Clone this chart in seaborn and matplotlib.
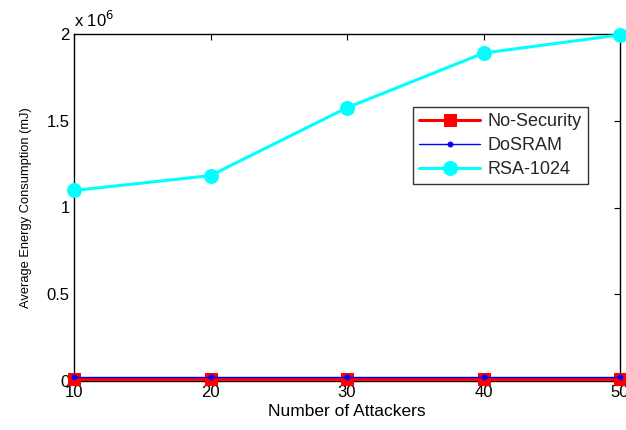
import matplotlib
matplotlib.use("Agg")
import matplotlib.pyplot as plt
import seaborn as sns
import pandas as pd
from matplotlib.ticker import FuncFormatter

attackers = [10, 20, 30, 40, 50]
no_security = [10000, 10000, 10000, 10000, 10000]
dosram = [25000, 25000, 25000, 25000, 25000]
rsa_1024 = [1.098e6, 1.184e6, 1.575e6, 1.89e6, 1.995e6]
series_names = ["No-Security", "DoSRAM", "RSA-1024"]

sns.set_theme(style="white")
plt.rcParams['font.family'] = ['Liberation Sans', 'DejaVu Sans']

rows = []
for name, vals in zip(series_names, [no_security, dosram, rsa_1024]):
    for a, v in zip(attackers, vals):
        rows.append({"Attackers": a, "Energy": v, "Series": name})
df = pd.DataFrame(rows)

fig = plt.figure(figsize=(6.26, 4.30), dpi=100)
ax = fig.add_axes([74/626, 1-381/430, (620-74)/626, (381-34)/430])

styles = {
    "No-Security": dict(color="#ff0000", marker="s", ms=9, lw=2.2),
    "DoSRAM": dict(color="#0000ff", marker="o", ms=3.5, lw=1.0),
    "RSA-1024": dict(color="#00ffff", marker="o", ms=10, lw=2.2),
}
for name in series_names:
    st = styles[name]
    sub = df[df["Series"] == name]
    sns.lineplot(data=sub, x="Attackers", y="Energy", ax=ax, color=st["color"],
                 marker=st["marker"], markersize=st["ms"], linewidth=st["lw"],
                 markeredgecolor=st["color"], label=name, clip_on=False, zorder=3)

ax.set_xlim(10, 50)
ax.set_ylim(0, 2e6)
ax.set_xticks(attackers)
ax.set_yticks([0, 0.5e6, 1e6, 1.5e6, 2e6])
ax.yaxis.set_major_formatter(FuncFormatter(lambda v, p: f"{v/1e6:g}"))
ax.tick_params(direction="in", length=4, width=0.8, top=True, right=True,
               labelsize=12, colors="black", pad=3)
for s in ax.spines.values():
    s.set_color("black")
    s.set_linewidth(1.0)

ax.set_xlabel("Number of Attackers", fontsize=12.5, color="black", labelpad=3)
ax.set_ylabel("Average Energy Consumption (mJ)", fontsize=9.3, color="black", labelpad=11)
ax.text(0.0, 1.012, "x 10$^6$", transform=ax.transAxes, fontsize=12,
        ha="left", va="bottom", color="black")

leg = ax.legend(loc="upper left", bbox_to_anchor=((413-74)/546, 1-(107-34)/347),
                fontsize=13, frameon=True, fancybox=False, edgecolor="black",
                borderpad=0.33, borderaxespad=0, handlelength=3.4,
                labelspacing=0.4, handletextpad=0.4)
leg.get_frame().set_linewidth(1.0)

fig.savefig("out.png", dpi=100)
